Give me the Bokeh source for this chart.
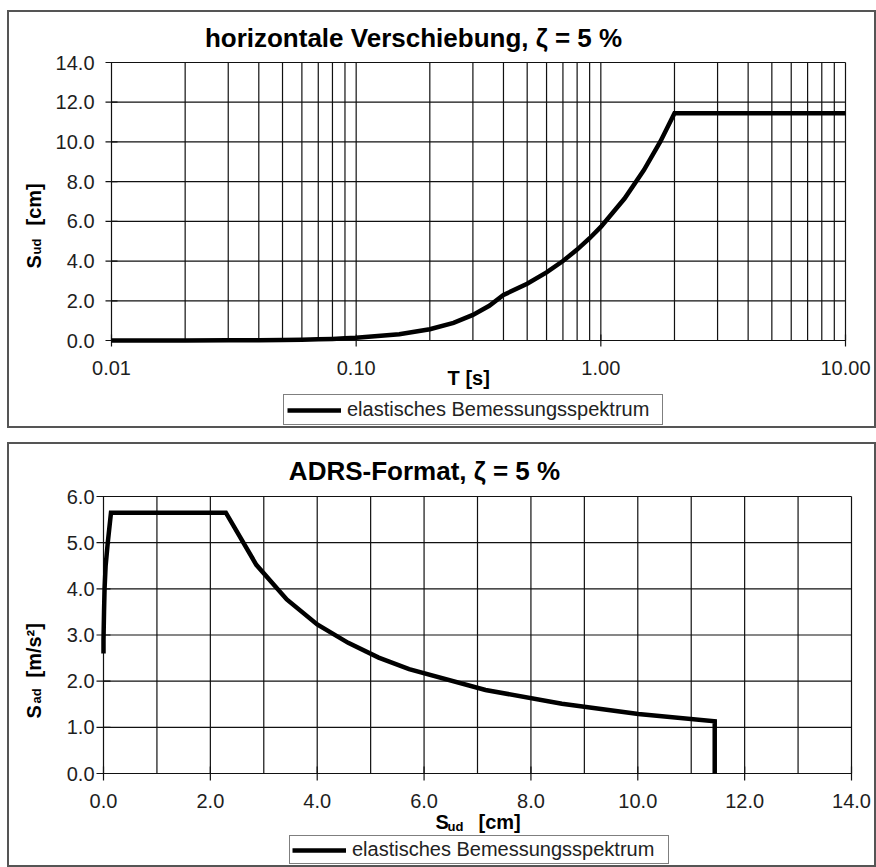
import math
from bokeh.plotting import figure
from bokeh.models import Range1d, Label, Legend, LegendItem
from bokeh.layouts import column
from bokeh.core.properties import value
from bokeh.embed import file_html
from bokeh.resources import INLINE

# ---------------- data ----------------
period_s = [0.01, 0.02, 0.03, 0.04, 0.05, 0.06, 0.07, 0.08, 0.09, 0.10, 0.15, 0.20, 0.25,
            0.30, 0.35, 0.40, 0.50, 0.60, 0.70, 0.80, 0.90, 1.00, 1.25, 1.50, 1.75, 2.00,
            3.00, 5.00, 10.00]
sud_cm = [0.00, 0.00, 0.01, 0.01, 0.02, 0.04, 0.06, 0.08, 0.11, 0.14, 0.32, 0.57, 0.89,
          1.29, 1.75, 2.29, 2.86, 3.43, 4.00, 4.58, 5.15, 5.72, 7.15, 8.58, 10.01, 11.44,
          11.44, 11.44, 11.44]

adrs_sud_cm = [0.00, 0.00, 0.01, 0.02, 0.04, 0.08, 0.14, 2.29, 2.86, 3.43, 4.00, 4.58,
               5.15, 5.72, 7.15, 8.58, 10.01, 11.44, 11.44]
adrs_sad = [2.60, 2.90, 3.50, 4.00, 4.50, 5.00, 5.65, 5.65, 4.52, 3.77, 3.23, 2.83,
            2.51, 2.26, 1.81, 1.51, 1.29, 1.13, 0.00]

top_x_ticks = [0.01, 0.1, 1.0, 10.0]
top_x_labels = ["0.01", "0.10", "1.00", "10.00"]
top_x_minor = [m * d for d in (0.01, 0.1, 1.0) for m in range(2, 10)]
top_y_ticks = [0, 2, 4, 6, 8, 10, 12, 14]
top_y_labels = ["0.0", "2.0", "4.0", "6.0", "8.0", "10.0", "12.0", "14.0"]

bot_x_ticks = [0, 2, 4, 6, 8, 10, 12, 14]
bot_x_labels = ["0.0", "2.0", "4.0", "6.0", "8.0", "10.0", "12.0", "14.0"]
bot_x_minor = [1, 3, 5, 7, 9, 11, 13]
bot_y_ticks = [0, 1, 2, 3, 4, 5, 6]
bot_y_labels = ["0.0", "1.0", "2.0", "3.0", "4.0", "5.0", "6.0"]

title_top = "horizontale Verschiebung, \u03b6 = 5 %"
title_bottom = "ADRS-Format, \u03b6 = 5 %"
legend_label = "elastisches Bemessungsspektrum"

# ---------------- layout / style ----------------
FONT = "Liberation Sans"
W = 869
GRID = "#111111"
TICK_TXT = "#1e1e1e"
BASE_FIX = 0.35   # em shift so that the text baseline lands where intended


def make_fig(height, box, xlim, ylim, log_x):
    """Figure whose frame is the whole canvas; box = plot area (left, right, top, bottom) in px."""
    left, right, top, bottom = box
    lo, hi = (math.log10(xlim[0]), math.log10(xlim[1])) if log_x else xlim
    k = (hi - lo) / (right - left)
    xs, xe = lo - left * k, hi + (W - right) * k
    if log_x:
        xs, xe = 10 ** xs, 10 ** xe
    ky = (ylim[1] - ylim[0]) / (bottom - top)
    ys, ye = ylim[0] - (height - bottom) * ky, ylim[1] + top * ky
    p = figure(width=W, height=height, title=None,
               x_axis_type="log" if log_x else "linear",
               x_range=Range1d(xs, xe), y_range=Range1d(ys, ye),
               x_axis_location=None, y_axis_location=None, min_border=0,
               output_backend="svg", toolbar_location=None)
    p.grid.visible = False
    p.outline_line_color = "#555555"
    p.outline_line_width = 3
    p.background_fill_color = "white"
    p.border_fill_color = "white"
    return p


def draw_grid(p, xlim, ylim, xgrid, ygrid):
    p.segment(x0=xgrid, x1=xgrid, y0=[ylim[0]] * len(xgrid), y1=[ylim[1]] * len(xgrid),
              line_color=GRID, line_width=1.2)
    p.segment(x0=[xlim[0]] * len(ygrid), x1=[xlim[1]] * len(ygrid), y0=ygrid, y1=ygrid,
              line_color=GRID, line_width=1.2)


def draw_ticks(p, xlim, ylim, xt, xl, yt, yl, tick_len, ylab_dx):
    p.scatter(x=xt, y=[ylim[0]] * len(xt), marker="dash", size=2 * tick_len, angle=math.pi / 2,
              line_color=GRID, line_width=1.2)
    p.scatter(x=[xlim[0]] * len(yt), y=yt, marker="dash", size=2 * tick_len,
              line_color=GRID, line_width=1.2)
    fix = round(BASE_FIX * 20)
    p.text(x=xt, y=[ylim[0]] * len(xt), text=xl, text_font=value(FONT),
           text_font_size=value("20px"), text_color=TICK_TXT, text_align="center",
           text_baseline="alphabetic", y_offset=34 - fix)
    p.text(x=[xlim[0]] * len(yt), y=yt, text=yl, text_font=value(FONT),
           text_font_size=value("20px"), text_color=TICK_TXT, text_align="right",
           text_baseline="alphabetic", x_offset=ylab_dx, y_offset=7 - fix)


def add_text(p, H, x, y, text, size, align="left", angle=0.0):
    """x, y: canvas position (y from top) of the start/centre of the baseline."""
    shift = BASE_FIX * size
    if angle:
        x -= shift
    else:
        y -= shift
    p.add_layout(Label(x=x, y=H - y, x_units="screen", y_units="screen", text=text,
                       text_font=FONT, text_font_size=f"{size}px", text_font_style="bold",
                       text_align=align, text_baseline="alphabetic", angle=angle,
                       text_color="black"))


def add_legend(p, r, loc, pad):
    leg = Legend(items=[LegendItem(label=legend_label, renderers=[r])], location=loc,
                 label_text_font=FONT, label_text_font_size="20px", label_text_color="#222222",
                 glyph_width=54, glyph_height=16, label_height=16, label_standoff=6,
                 label_width=318 - 2 * pad, padding=pad, spacing=0, margin=0,
                 border_line_color="black", border_line_width=1,
                 background_fill_color="white", background_fill_alpha=1)
    p.add_layout(leg)


# ---------------- top chart (canvas origin at page (7, 10)) ----------------
H1 = 418
xlim1, ylim1 = (0.01, 10.0), (0.0, 14.0)
p1 = make_fig(H1, (104, 838, 52, 330), xlim1, ylim1, True)
draw_grid(p1, xlim1, ylim1, top_x_ticks + top_x_minor, top_y_ticks)
draw_ticks(p1, xlim1, ylim1, top_x_ticks, top_x_labels, top_y_ticks, top_y_labels, 6, -17)
r1 = p1.line(period_s, sud_cm, line_color="black", line_width=4.5, line_join="miter")
add_legend(p1, r1, (276, 3), 3)
add_text(p1, H1, 406, 37, title_top, 26, align="center")
add_text(p1, H1, 464, 374, "T  [s]", 20, align="center")
add_text(p1, H1, 33, 258, "S", 20, angle=math.pi / 2)
add_text(p1, H1, 34, 244, "ud", 13, angle=math.pi / 2)
add_text(p1, H1, 33, 215, "[cm]", 20, angle=math.pi / 2)

# ---------------- bottom chart (canvas origin at page (7, 442)) ----------------
H2 = 425
xlim2, ylim2 = (0.0, 14.0), (0.0, 6.0)
p2 = make_fig(H2, (96, 844, 54, 331), xlim2, ylim2, False)
draw_grid(p2, xlim2, ylim2, bot_x_ticks + bot_x_minor, bot_y_ticks)
draw_ticks(p2, xlim2, ylim2, bot_x_ticks, bot_x_labels, bot_y_ticks, bot_y_labels, 7, -9)
r2 = p2.line(adrs_sud_cm, adrs_sad, line_color="black", line_width=4.5, line_join="miter")
add_legend(p2, r2, (282, 3), 2)
add_text(p2, H2, 417, 38, title_bottom, 26, align="center")
add_text(p2, H2, 428, 386, "S", 20)
add_text(p2, H2, 440, 389, "ud", 13)
add_text(p2, H2, 471, 386, "[cm]", 20)
add_text(p2, H2, 33, 276, "S", 20, angle=math.pi / 2)
add_text(p2, H2, 34, 261, "ad", 13, angle=math.pi / 2)
add_text(p2, H2, 33, 235, "[m/s\u00b2]", 20, angle=math.pi / 2)

layout = column(p1, p2, spacing=14, margin=(10, 0, 0, 7))
open("out.html", "w").write(file_html(layout, INLINE))
